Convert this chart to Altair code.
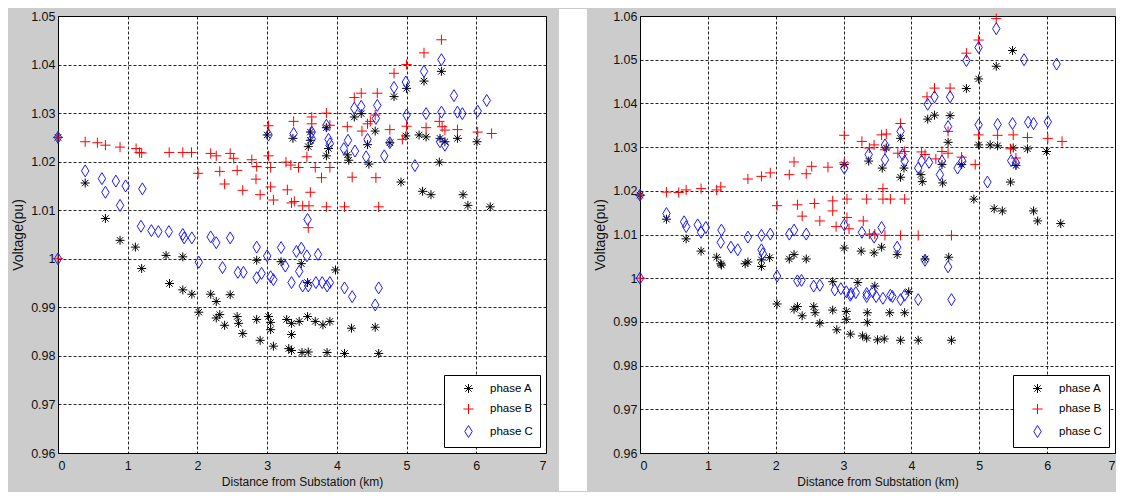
import altair as alt
import pandas as pd

# ---------------- data ----------------
PHASES = ["phase A", "phase B", "phase C"]
COLORS = ["#000000", "#ff0000", "#1a1aff"]
X_TICKS = [0, 1, 2, 3, 4, 5, 6, 7]
LEFT_Y_TICKS = [0.96, 0.97, 0.98, 0.99, 1.00, 1.01, 1.02, 1.03, 1.04, 1.05]
RIGHT_Y_TICKS = [0.96, 0.97, 0.98, 0.99, 1.00, 1.01, 1.02, 1.03, 1.04, 1.05, 1.06]

LEFT_PHASE_A = [
    (0, 1.025), (0.39, 1.0156), (0.68, 1.0083), (0.89, 1.0038), (1.11, 1.0024),
    (1.2, 0.998), (1.55, 1.0007), (1.6, 0.9949), (1.79, 1.0004), (1.79, 0.9936),
    (1.92, 0.9927), (2.02, 0.989), (2.19, 0.9927), (2.27, 0.9912), (2.27, 0.9878),
    (2.32, 0.9885), (2.39, 0.9863), (2.47, 0.9926), (2.57, 0.9881), (2.59, 0.9867),
    (2.65, 0.9846), (2.85, 0.9997), (2.85, 0.9875), (2.9, 0.9832), (3.0, 1.0255),
    (3.02, 0.9881), (3.05, 0.9869), (3.05, 0.9854), (3.09, 0.982), (3.2, 0.9994),
    (3.28, 0.9875), (3.31, 0.9815), (3.35, 0.9811), (3.35, 0.9867), (3.35, 0.9844),
    (3.37, 1.0248), (3.46, 0.9871), (3.49, 0.999), (3.5, 0.9807), (3.58, 0.9951),
    (3.58, 0.9881), (3.59, 0.9808), (3.59, 1.0231), (3.62, 1.0244), (3.62, 1.0261),
    (3.69, 0.9871), (3.8, 0.9864), (3.85, 1.027), (3.85, 1.0212), (3.86, 0.9807),
    (3.88, 1.0227), (3.9, 0.9871), (3.98, 0.9977), (4.11, 0.9805), (4.15, 1.0214),
    (4.17, 1.0203), (4.21, 0.9857), (4.25, 1.0292), (4.35, 1.0299), (4.44, 1.0235),
    (4.46, 1.0195), (4.55, 1.0263), (4.55, 0.9859), (4.6, 0.9805), (4.76, 1.0239),
    (4.82, 1.0334), (4.92, 1.0158), (4.99, 1.0253), (5.0, 1.0351), (5.18, 1.0255),
    (5.23, 1.0139), (5.25, 1.0366), (5.28, 1.0251), (5.35, 1.0132), (5.47, 1.0199),
    (5.48, 1.0248), (5.5, 1.0386), (5.55, 1.0241), (5.73, 1.0248), (5.81, 1.0132),
    (5.88, 1.011), (6.01, 1.0241), (6.2, 1.0107),
]
LEFT_PHASE_B = [
    (0, 1.025), (0, 1.0), (0.39, 1.0241), (0.565, 1.0239), (0.68, 1.0234),
    (0.89, 1.023), (1.12, 1.0227), (1.17, 1.0219), (1.2, 1.0218), (1.595, 1.0219),
    (1.79, 1.0219), (1.915, 1.0219), (2.01, 1.0176), (2.19, 1.0217), (2.27, 1.0212),
    (2.32, 1.018), (2.39, 1.0154), (2.47, 1.0217), (2.52, 1.0207), (2.57, 1.0182),
    (2.65, 1.0141), (2.78, 1.0204), (2.85, 1.019), (2.84, 1.0164), (2.9, 1.0132),
    (3.02, 1.0274), (3.02, 1.0212), (3.05, 1.0188), (3.05, 1.0148), (3.09, 1.0121),
    (3.27, 1.0199), (3.29, 1.0142), (3.34, 1.0193), (3.35, 1.0115), (3.39, 1.0118),
    (3.38, 1.0283), (3.45, 1.0188), (3.51, 1.0109), (3.6, 1.0109), (3.62, 1.0137),
    (3.57, 1.021), (3.64, 1.0292), (3.64, 1.0278), (3.59, 1.0064), (3.69, 1.0188),
    (3.78, 1.0167), (3.85, 1.03), (3.85, 1.0107), (3.9, 1.0188), (3.9, 1.0275),
    (4.11, 1.0107), (4.15, 1.0272), (4.22, 1.0168), (4.25, 1.0332), (4.35, 1.0341),
    (4.36, 1.0263), (4.44, 1.0278), (4.48, 1.0283), (4.55, 1.0296), (4.56, 1.0167),
    (4.58, 1.0341), (4.6, 1.0107), (4.76, 1.0266), (4.82, 1.0382), (4.94, 1.0246),
    (5.0, 1.04), (5.0, 1.0273), (5.25, 1.0424), (5.28, 1.027), (5.47, 1.0283),
    (5.51, 1.0272), (5.55, 1.0265), (5.5, 1.0451), (5.73, 1.0266), (6.02, 1.0261),
    (6.22, 1.0258),
]
LEFT_PHASE_C = [
    (0, 1.025), (0, 1.0), (0.39, 1.0181), (0.63, 1.0165), (0.68, 1.0137),
    (0.83, 1.016), (0.89, 1.011), (0.97, 1.015), (1.21, 1.0144), (1.19, 1.0067),
    (1.34, 1.0058), (1.44, 1.0056), (1.59, 1.0056), (1.79, 1.005), (1.81, 1.0043),
    (1.92, 1.0043), (2.02, 0.9993), (2.19, 1.0045), (2.27, 1.0033), (2.36, 0.9982),
    (2.47, 1.0043), (2.58, 0.9972), (2.66, 0.9972), (2.85, 1.0024), (2.85, 0.9961),
    (2.92, 0.997), (3.0, 1.0006), (3.02, 1.0255), (3.05, 0.9963), (3.09, 0.9957),
    (3.2, 1.0023), (3.26, 0.9985), (3.35, 0.9951), (3.38, 1.0258), (3.42, 1.0015),
    (3.49, 1.0022), (3.46, 0.9974), (3.51, 0.9944), (3.57, 1.0006), (3.58, 1.0081),
    (3.59, 0.9944), (3.64, 1.0261), (3.64, 1.0247), (3.7, 0.9951), (3.73, 1.0009),
    (3.79, 0.9951), (3.85, 1.0275), (3.86, 0.9944), (3.88, 1.0246), (3.9, 1.0237),
    (3.9, 0.9951), (4.1, 1.0227), (4.11, 0.994), (4.16, 1.0244), (4.22, 0.9922),
    (4.25, 1.031), (4.26, 1.0222), (4.35, 1.0314), (4.42, 1.021), (4.44, 1.0246),
    (4.55, 0.9905), (4.56, 1.0289), (4.58, 1.0316), (4.6, 0.994), (4.68, 1.0212),
    (4.76, 1.0239), (4.82, 1.0353), (4.99, 1.0364), (5.0, 1.0296), (5.12, 1.0192),
    (5.25, 1.0386), (5.28, 1.0299), (5.48, 1.0241), (5.5, 1.041), (5.5, 1.0302),
    (5.55, 1.0234), (5.68, 1.0336), (5.73, 1.0302), (5.8, 1.0299), (6.02, 1.0304),
    (6.15, 1.0326),
]

RIGHT_PHASE_A = [
    (0, 1.019), (0.39, 1.0135), (0.68, 1.009), (0.9, 1.0062), (1.13, 1.0048),
    (1.19, 1.0033), (1.2, 1.003), (1.55, 1.0033), (1.59, 1.0037), (1.79, 1.0042),
    (1.79, 1.0027), (1.91, 1.0047), (2.02, 0.9941), (2.2, 1.0044), (2.27, 1.0054),
    (2.27, 0.9929), (2.32, 0.9935), (2.39, 0.9914), (2.45, 1.0044), (2.56, 0.9935),
    (2.58, 0.9921), (2.65, 0.9897), (2.84, 0.9992), (2.84, 0.9927), (2.9, 0.9882),
    (3.01, 1.026), (3.01, 1.0069), (3.04, 0.9924), (3.04, 0.9906), (3.1, 0.9872),
    (3.21, 0.999), (3.26, 1.0062), (3.28, 0.9868), (3.34, 0.9863), (3.35, 0.9921),
    (3.35, 0.9899), (3.37, 1.0268), (3.45, 1.0058), (3.46, 0.9982), (3.5, 0.9859),
    (3.56, 1.0071), (3.57, 1.0252), (3.6, 0.9861), (3.63, 1.0298), (3.68, 0.9921),
    (3.79, 1.0054), (3.84, 1.032), (3.84, 1.0231), (3.84, 0.9858), (3.89, 1.0252),
    (3.9, 0.9921), (3.96, 0.9969), (4.1, 0.9858), (4.14, 1.0237), (4.16, 1.0221),
    (4.2, 1.0044), (4.24, 1.0364), (4.34, 1.0373), (4.45, 1.026), (4.46, 1.0218),
    (4.54, 1.0311), (4.55, 1.0048), (4.57, 1.0372), (4.59, 0.9858), (4.74, 1.026),
    (4.81, 1.0434), (4.92, 1.0181), (4.99, 1.0456), (4.99, 1.0305), (5.16, 1.0305),
    (5.22, 1.0159), (5.25, 1.0485), (5.27, 1.0303), (5.34, 1.0154), (5.46, 1.022),
    (5.49, 1.0521), (5.5, 1.0298), (5.54, 1.0258), (5.71, 1.0296), (5.8, 1.0154),
    (5.86, 1.0131), (5.99, 1.029), (6.2, 1.0125),
]
RIGHT_PHASE_B = [
    (0, 1.019), (0, 1.0), (0.39, 1.0197), (0.57, 1.0196), (0.68, 1.0202),
    (0.9, 1.0205), (1.13, 1.0202), (1.19, 1.0209), (1.59, 1.0227), (1.79, 1.0233),
    (1.92, 1.0241), (2.02, 1.0166), (2.2, 1.0237), (2.27, 1.0266), (2.32, 1.0168),
    (2.39, 1.0142), (2.45, 1.0239), (2.53, 1.0256), (2.57, 1.0171), (2.65, 1.0131),
    (2.77, 1.0254), (2.84, 1.0177), (2.84, 1.0154), (2.89, 1.0118), (3.01, 1.0327),
    (3.01, 1.0264), (3.05, 1.0181), (3.05, 1.0139), (3.08, 1.0113), (3.27, 1.0313),
    (3.29, 1.0131), (3.34, 1.0181), (3.38, 1.0298), (3.38, 1.0101), (3.45, 1.0305),
    (3.46, 1.0101), (3.56, 1.0328), (3.58, 1.0205), (3.58, 1.0181), (3.61, 1.0294),
    (3.61, 1.0098), (3.63, 1.033), (3.69, 1.0181), (3.8, 1.0286), (3.84, 1.0354),
    (3.84, 1.0098), (3.9, 1.029), (3.9, 1.0181), (4.1, 1.0098), (4.15, 1.0289),
    (4.2, 1.0283), (4.23, 1.0415), (4.34, 1.0435), (4.36, 1.0273), (4.45, 1.029),
    (4.54, 1.0286), (4.54, 1.0336), (4.57, 1.0435), (4.59, 1.0098), (4.74, 1.0277),
    (4.81, 1.0515), (4.94, 1.026), (4.99, 1.0545), (4.99, 1.0328), (5.25, 1.0594),
    (5.27, 1.0327), (5.46, 1.0296), (5.5, 1.0328), (5.54, 1.0275), (5.71, 1.0322),
    (6.01, 1.032), (6.22, 1.0313),
]
RIGHT_PHASE_C = [
    (0, 1.019), (0, 1.0), (0.39, 1.0148), (0.65, 1.0129), (0.68, 1.0118),
    (0.85, 1.0122), (0.9, 1.0105), (0.97, 1.0116), (1.2, 1.011), (1.19, 1.0082),
    (1.34, 1.0071), (1.44, 1.0065), (1.59, 1.0094), (1.79, 1.0098), (1.79, 1.0065),
    (1.81, 1.0056), (1.92, 1.0101), (2.02, 1.0005), (2.2, 1.0101), (2.27, 1.011),
    (2.32, 0.9994), (2.38, 0.9995), (2.45, 1.0101), (2.56, 0.9982), (2.65, 0.9984),
    (2.87, 0.9973), (2.96, 0.9976), (3.01, 1.0252), (3.01, 1.0122), (3.04, 0.9969),
    (3.1, 0.9961), (3.11, 0.9965), (3.18, 0.9967), (3.27, 1.0105), (3.34, 0.9965),
    (3.34, 0.9958), (3.37, 1.0283), (3.43, 0.9969), (3.45, 1.0094), (3.48, 0.9958),
    (3.56, 1.0116), (3.58, 0.9954), (3.61, 1.0271), (3.61, 1.0305), (3.69, 0.9961),
    (3.72, 0.9958), (3.79, 1.0071), (3.84, 1.0336), (3.84, 0.9951), (3.87, 1.0283),
    (3.9, 1.0268), (3.9, 0.9961), (4.1, 1.0252), (4.1, 0.9951), (4.15, 1.0268),
    (4.2, 1.0041), (4.24, 1.0398), (4.26, 1.0265), (4.34, 1.0415), (4.42, 1.0237),
    (4.45, 1.0268), (4.54, 1.0347), (4.54, 1.0026), (4.57, 1.0415), (4.59, 0.9951),
    (4.68, 1.0252), (4.75, 1.0268), (4.81, 1.0498), (4.99, 1.0528), (4.99, 1.0351),
    (5.12, 1.022), (5.25, 1.0571), (5.27, 1.0352), (5.47, 1.0269), (5.49, 1.0354),
    (5.54, 1.0264), (5.66, 1.05), (5.72, 1.0357), (5.8, 1.0354), (6.01, 1.0358),
    (6.14, 1.049),
]

# ---------------- styling ----------------
FONT = "Liberation Sans, Arial, Helvetica, sans-serif"
SHAPES = [
    "M-0.75,0L0.75,0M0,-0.75L0,0.75M-0.53,-0.53L0.53,0.53M-0.53,0.53L0.53,-0.53",
    "M-0.85,0L0.85,0M0,-0.85L0,0.85",
    "M0,-1L0.62,0L0,1L-0.62,0Z",
]


def frame(a, b, c):
    rows = []
    for name, pts in zip(PHASES, (a, b, c)):
        for d, v in pts:
            rows.append({"distance": d, "voltage": v, "phase": name})
    return pd.DataFrame(rows)


def panel(df, yticks, w, h, gap=False):
    leg = alt.Legend(
        title=None, orient="bottom-right", offset=6, fillColor="white",
        strokeColor="black", padding=7, symbolOffset=11, labelOffset=15,
        rowPadding=6.5, labelFont=FONT, labelFontSize=11.5, labelColor="black",
        symbolSize=144, symbolStrokeWidth=1,
    )
    pts = alt.Chart(df).mark_point(filled=False, size=144, strokeWidth=1, opacity=1).encode(
        x=alt.X("distance:Q",
                scale=alt.Scale(domain=[X_TICKS[0], X_TICKS[-1]], nice=False, zero=False),
                axis=alt.Axis(values=X_TICKS, format="d", title="Distance from Substation (km)")),
        y=alt.Y("voltage:Q",
                scale=alt.Scale(domain=[yticks[0], yticks[-1]], nice=False, zero=False),
                axis=alt.Axis(values=yticks, labelExpr="format(datum.value, '.2~f')",
                              title="Voltage(pu)")),
        color=alt.Color("phase:N", scale=alt.Scale(domain=PHASES, range=COLORS), legend=leg),
        shape=alt.Shape("phase:N", scale=alt.Scale(domain=PHASES, range=SHAPES), legend=leg),
    )
    if gap:
        stripe = alt.Chart(pd.DataFrame({"k": [0]})).mark_rect(color="white").encode(
            x=alt.value(w + 13), x2=alt.value(w + 41), y=alt.value(-7), y2=alt.value(h + 38)
        )
        return alt.layer(stripe, pts).properties(width=w, height=h)
    return pts.properties(width=w, height=h)


left = panel(frame(LEFT_PHASE_A, LEFT_PHASE_B, LEFT_PHASE_C), LEFT_Y_TICKS, 488, 437, gap=True)
right = panel(frame(RIGHT_PHASE_A, RIGHT_PHASE_B, RIGHT_PHASE_C), RIGHT_Y_TICKS, 475, 437)

chart = (
    alt.hconcat(left, right, spacing=5)
    .resolve_scale(color="independent", shape="independent", x="independent", y="independent")
    .resolve_legend(color="independent", shape="independent")
    .properties(padding={"left": 3, "top": 0, "right": 0, "bottom": 0}, background="#cccccc")
    .configure_view(fill="white", stroke="#000000", strokeWidth=1)
    .configure_axis(
        grid=True, gridColor="#000000", gridDash=[3, 2], gridWidth=1, gridOpacity=0.85,
        domain=False, ticks=False, labelFont=FONT, labelFontSize=12.5, labelColor="#111111",
        titleFont=FONT, titleFontSize=12, titleFontWeight="normal", titleColor="#111111",
    )
    .configure_axisX(labelPadding=6, titlePadding=5)
    .configure_axisY(labelPadding=3, titlePadding=5, titleFontSize=14)
)

chart.save("out.html", embed_options={"renderer": "svg", "actions": False})
